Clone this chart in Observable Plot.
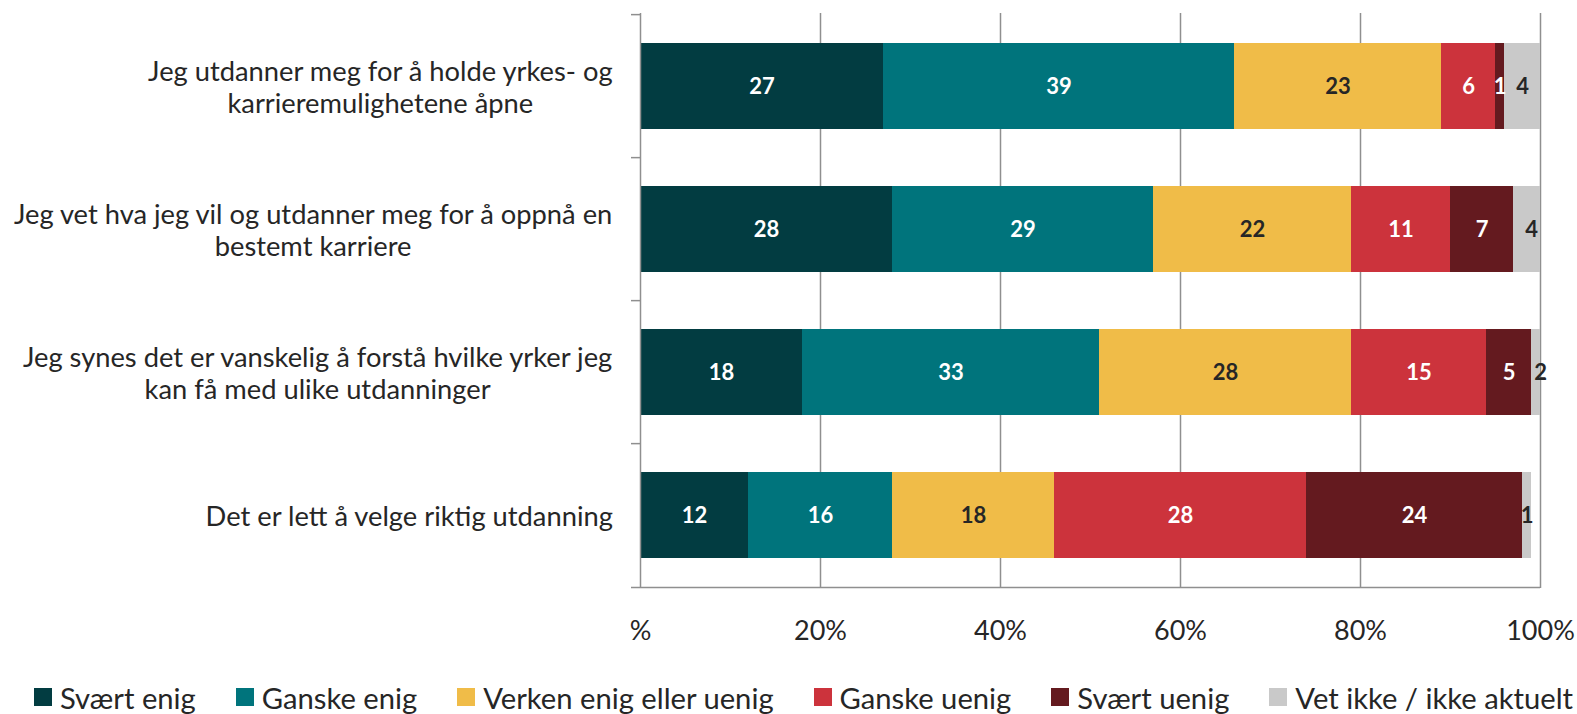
<!DOCTYPE html>
<html><head><meta charset="utf-8">
<script src="https://cdn.jsdelivr.net/npm/d3@7"></script>
<script src="https://cdn.jsdelivr.net/npm/@observablehq/plot@0.6"></script>
<style>
body{margin:0;background:#fff;font-family:Lato, sans-serif;overflow:hidden;}
#legend{display:flex;align-items:center;height:34px;padding-left:34px;font-size:29.2px;color:#262626;white-space:nowrap;}
.item{display:flex;align-items:center;margin-right:40px;}
.item:last-child{margin-right:0;}
.sw{width:18px;height:18px;margin-right:8px;flex:none;}
</style></head><body><div id="chart"></div><div id="legend"></div>
<script>
const categories = [
  "Jeg utdanner meg for å holde yrkes- og\nkarrieremulighetene åpne",
  "Jeg vet hva jeg vil og utdanner meg for å oppnå en\nbestemt karriere",
  "Jeg synes det er vanskelig å forstå hvilke yrker jeg\nkan få med ulike utdanninger",
  "Det er lett å velge riktig utdanning"
];
const series = ["Svært enig","Ganske enig","Verken enig eller uenig","Ganske uenig","Svært uenig","Vet ikke / ikke aktuelt"];
const seriesColors = ["#023c41","#00747c","#f0bc48","#cc333c","#641a1f","#c9c9c9"];
const svaertEnig = [27,28,18,12];
const ganskeEnig = [39,29,33,16];
const verken = [23,22,28,18];
const ganskeUenig = [6,11,15,28];
const svaertUenig = [1,7,5,24];
const vetIkke = [4,4,2,1];
const xTicks = [0,20,40,60,80,100];
const xTickLabels = ["%","20%","40%","60%","80%","100%"];
const darkLabelSeries = ["Verken enig eller uenig","Vet ikke / ikke aktuelt"];

const valuesBySeries = [svaertEnig, ganskeEnig, verken, ganskeUenig, svaertUenig, vetIkke];
const data = [];
categories.forEach((c, i) => series.forEach((s, j) => data.push({category: c, series: s, value: valuesBySeries[j][i]})));

const W = 1577, H = 680, mL = 640, mR = 37, mT = 13, mB = 92;
const step = (H - mT - mB) / categories.length;
const catFont = 27.3, catGap = 27;
const ctx = document.createElement("canvas").getContext("2d");
ctx.font = `${catFont}px Lato`;
const labelWidth = c => d3.max(c.split("\n"), l => ctx.measureText(l).width);
const gridColor = "#8f8f8f";
const textColor = "#262626";
const isDark = d => darkLabelSeries.includes(d.series);

const chart = Plot.plot({
  width: W, height: H,
  marginLeft: mL, marginRight: mR, marginTop: mT, marginBottom: mB,
  style: {fontFamily: "Lato, sans-serif", background: "#fff"},
  x: {domain: [0, 100], axis: null, label: null},
  y: {domain: categories, axis: null, paddingInner: 0.4, paddingOuter: 0.2},
  color: {domain: series, range: seriesColors},
  marks: [
    Plot.ruleX(xTicks.slice(1), {stroke: gridColor, strokeWidth: 1.5}),
    Plot.barX(data, Plot.stackX({x: "value", y: "category", fill: "series", clip: true})),
    Plot.ruleX([0], {stroke: gridColor, strokeWidth: 1.5}),
    Plot.ruleY(categories, {y: d => d, x1: -1, x2: 0, dy: -step / 2, stroke: gridColor, strokeWidth: 1.5}),
    Plot.ruleY(categories.slice(-1), {y: d => d, x1: -1, x2: 100, dy: step / 2, stroke: gridColor, strokeWidth: 1.5}),
    Plot.text(data, Plot.filter(d => !isDark(d), Plot.stackX({x: "value", y: "category", text: "value", fill: "white", fontSize: 22, fontWeight: "bold"}))),
    Plot.text(data, Plot.filter(isDark, Plot.stackX({x: "value", y: "category", text: "value", fill: textColor, fontSize: 22, fontWeight: "bold"}))),
    ...categories.map(c => Plot.text([c], {y: d => d, text: d => d, frameAnchor: "left", dx: -(catGap + labelWidth(c) / 2), textAnchor: "middle", lineAnchor: "middle", lineHeight: 1.2, fontSize: catFont, fill: textColor})),
    Plot.axisX({ticks: xTicks, tickFormat: d => xTickLabels[xTicks.indexOf(d)], tickSize: 0, tickPadding: 32, fontSize: 27, fill: textColor, anchor: "bottom", label: null})
  ]
});
document.getElementById("chart").appendChild(chart);

const legend = document.getElementById("legend");
series.forEach((s, i) => {
  const it = document.createElement("div"); it.className = "item";
  const sw = document.createElement("span"); sw.className = "sw"; sw.style.background = seriesColors[i];
  const t = document.createElement("span"); t.textContent = s;
  it.appendChild(sw); it.appendChild(t); legend.appendChild(it);
});
</script></body></html>
